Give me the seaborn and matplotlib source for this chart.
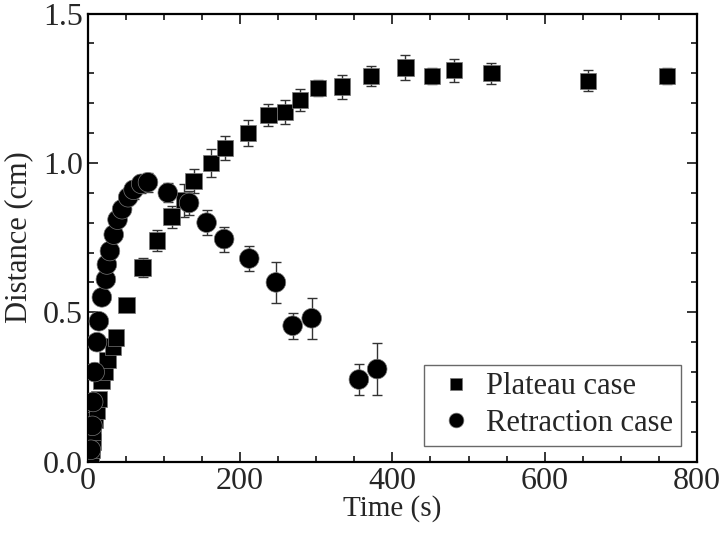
#importing the required libraries
import numpy as np
import pandas as pd
import seaborn as sns
import matplotlib.pyplot as plt
from matplotlib.ticker import MultipleLocator

sns.set_style('ticks')
plt.rcParams['font.family'] = ['Liberation Serif', 'DejaVu Serif']

# plateau case
plateau_t = [4, 5, 6, 7, 9, 12, 15, 18, 22, 26, 33, 37, 51, 72, 91, 110, 126, 139,
             162, 180, 210, 237, 259, 279, 302, 334, 372, 417, 452, 481, 530, 657, 761]
plateau_d = [0.02, 0.04, 0.065, 0.10, 0.14, 0.17, 0.21, 0.27, 0.30, 0.34, 0.385, 0.415,
             0.525, 0.65, 0.74, 0.82, 0.875, 0.94, 1.00, 1.05, 1.10, 1.16, 1.17, 1.21,
             1.25, 1.255, 1.29, 1.32, 1.29, 1.31, 1.30, 1.275, 1.29]
plateau_err = [0.01] * 12 + [0.012, 0.032, 0.035, 0.037, 0.055, 0.04, 0.047, 0.04, 0.045,
                             0.037, 0.04, 0.036, 0.026, 0.04, 0.034, 0.041, 0.026, 0.039,
                             0.035, 0.035, 0.026]

# retraction case
retract_t = [4, 6, 7, 9, 12, 14.5, 18.4, 23.7, 25, 29, 34, 39, 45, 53, 60, 70, 79, 105,
             133, 156, 179, 212, 247, 269, 294, 356, 380]
retract_d = [0.04, 0.12, 0.20, 0.30, 0.40, 0.47, 0.55, 0.61, 0.66, 0.705, 0.76, 0.81,
             0.845, 0.885, 0.91, 0.93, 0.935, 0.90, 0.866, 0.80, 0.745, 0.68, 0.60,
             0.455, 0.48, 0.275, 0.31]
retract_err = [0.01, 0.01, 0.01, 0.015, 0.015, 0.015, 0.015, 0.015, 0.015, 0.015, 0.015,
               0.02, 0.02, 0.025, 0.03, 0.03, 0.032, 0.032, 0.04, 0.042, 0.042, 0.043,
               0.068, 0.043, 0.068, 0.053, 0.086]

df = pd.concat([
    pd.DataFrame({'t': plateau_t, 'd': plateau_d, 'err': plateau_err, 'case': 'Plateau case'}),
    pd.DataFrame({'t': retract_t, 'd': retract_d, 'err': retract_err, 'case': 'Retraction case'}),
])

fig = plt.figure(figsize=(7.2, 5.4), dpi=100)
ax = fig.add_axes([0.122, 0.145, 0.846, 0.83])

# error bars first
for name, g in df.groupby('case'):
    ax.errorbar(g['t'], g['d'], yerr=g['err'], fmt='none', ecolor='#333333',
                elinewidth=1, capsize=3.5, capthick=1, zorder=1)

sns.scatterplot(data=df, x='t', y='d', style='case', hue='case',
                markers={'Plateau case': 's', 'Retraction case': 'o'},
                palette={'Plateau case': 'black', 'Retraction case': 'black'},
                size='case', sizes={'Plateau case': 140, 'Retraction case': 200},
                edgecolor='#777777', linewidth=0.5, ax=ax, zorder=3)

ax.set_xlim(0, 800)
ax.set_ylim(0, 1.5)
ax.xaxis.set_major_locator(MultipleLocator(200))
ax.xaxis.set_minor_locator(MultipleLocator(50))
ax.yaxis.set_major_locator(MultipleLocator(0.5))
ax.yaxis.set_minor_locator(MultipleLocator(0.1))
ax.yaxis.set_major_formatter(plt.FormatStrFormatter('%.1f'))
ax.tick_params(which='both', direction='in', top=True, right=True, labelsize=23, width=1.3)
ax.tick_params(which='major', length=7)
ax.tick_params(which='minor', length=4)
for s in ax.spines.values():
    s.set_linewidth(1.6)
    s.set_color('black')

ax.set_xlabel('Time (s)', fontsize=21, labelpad=0)
ax.set_ylabel('Distance (cm)', fontsize=22, labelpad=7)

leg = ax.legend(loc='lower right', bbox_to_anchor=(0.974, 0.036), borderaxespad=0,
                fontsize=22, markerscale=0.75, frameon=True, fancybox=False,
                edgecolor='#444444', handletextpad=0.2, borderpad=0.25,
                labelspacing=0.25, handlelength=1.6)
leg.get_frame().set_linewidth(1)

plt.savefig('out.png', dpi=100)
